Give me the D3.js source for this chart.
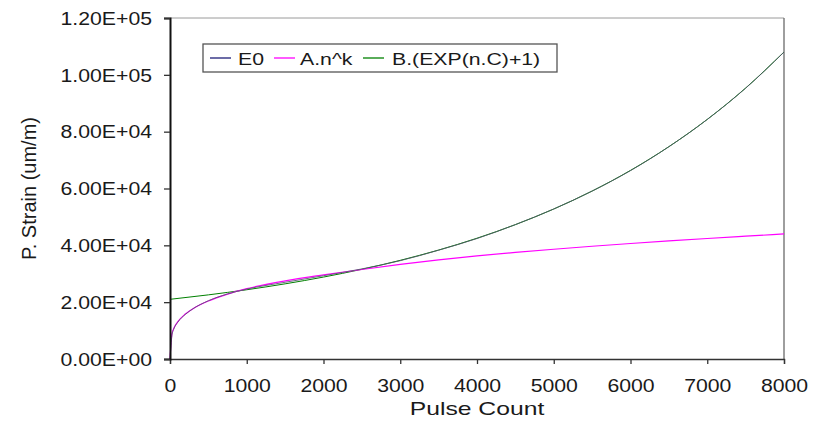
<!DOCTYPE html>
<html>
<head>
<meta charset="utf-8">
<script src="https://cdn.jsdelivr.net/npm/d3@7"></script>
<style>
  html, body { margin: 0; padding: 0; background: #fff; }
  svg { display: block; }
  text { font-family: "Liberation Sans", Arial, sans-serif; fill: #1a1a1a; }
</style>
</head>
<body>
<svg id="chart" width="813" height="421"></svg>
<script>
// ---- data ----
const pulses   = [0, 25, 50, 100, 200, 300, 500, 750, 1000, 1500, 2000, 2500, 3000, 3500, 4000, 4500, 5000, 5500, 6000, 6500, 7000, 7500, 8000];
const e0Values = [0, 8200, 10600, 12900, 15700, 17700, 20500, 22900, 24600, 27000, 29300, 31700, 34600, 38300, 42400, 47300, 52800, 59100, 66300, 74700, 84300, 95300, 108000];
const aValues  = [0, 8900, 10790, 13070, 15840, 17720, 20410, 22840, 24740, 27500, 29600, 31500, 33300, 34900, 36310, 37520, 38630, 39670, 40640, 41550, 42410, 43220, 44000];
const bPulses  = [0, 500, 1000, 1500, 2000, 2500, 3000, 3500, 4000, 4500, 5000, 5500, 6000, 6500, 7000, 7500, 8000];
const bValues  = [21000, 22570, 24370, 26450, 28830, 31570, 34720, 38340, 42500, 47280, 52780, 59100, 66370, 74720, 84320, 95350, 108040];
const xTicks = [0, 1000, 2000, 3000, 4000, 5000, 6000, 7000, 8000];
const yTicks = [0, 20000, 40000, 60000, 80000, 100000, 120000];
const seriesNames = ["E0", "A.n^k", "B.(EXP(n.C)+1)"];
const seriesColors = ["#1c1c78", "#ff00ff", "#008000"];
const xTitle = "Pulse Count";
const yTitle = "P. Strain (um/m)";

// ---- layout ----
const svg = d3.select("#chart");
const L = 170, R = 784, T = 18, B = 359;
const x = d3.scaleLinear().domain([0, 8000]).range([L, R]);
const y = d3.scaleLinear().domain([0, 120000]).range([B, T]);

function sci(v) {
  const [m, e] = v.toExponential(2).split("e");
  const sign = e[0] === "-" ? "-" : "+";
  const ex = e.replace(/^[+-]/, "").padStart(2, "0");
  return m + "E" + sign + ex;
}
function stretch(sel, f) {
  sel.each(function () {
    const w = this.getComputedTextLength();
    d3.select(this).attr("textLength", w * f).attr("lengthAdjust", "spacingAndGlyphs");
  });
}

// frame (top and right)
svg.append("line").attr("x1", L).attr("x2", R).attr("y1", T).attr("y2", T)
  .attr("stroke", "#9a9a9a").attr("stroke-width", 1);
svg.append("line").attr("x1", R).attr("x2", R).attr("y1", T).attr("y2", B)
  .attr("stroke", "#6a6a6a").attr("stroke-width", 1.3);

// series
const bData = bPulses.map((p, i) => [p, bValues[i]]);
const aData = pulses.map((p, i) => [p, aValues[i]]);
const eData = pulses.map((p, i) => [p, e0Values[i]]);
const cg = d3.line().curve(d3.curveMonotoneX).x(d => x(d[0])).y(d => y(d[1]));
svg.append("path").datum(bData).attr("d", cg).attr("fill", "none")
  .attr("stroke", seriesColors[2]).attr("stroke-width", 1);
svg.append("path").datum(aData).attr("d", cg).attr("fill", "none")
  .attr("stroke", seriesColors[1]).attr("stroke-width", 1.2);
svg.append("path").datum(eData).attr("d", cg).attr("fill", "none")
  .attr("stroke", "#55556e").attr("stroke-width", 1).attr("stroke-opacity", 0.85);

// axes
const xAxis = svg.append("g").attr("transform", `translate(0,${B})`)
  .call(d3.axisBottom(x).tickValues(xTicks).tickFormat(d3.format("d")).tickSize(5).tickPadding(15));
const yAxis = svg.append("g").attr("transform", `translate(${L},0)`)
  .call(d3.axisLeft(y).tickValues(yTicks).tickFormat(sci).tickSize(6).tickPadding(12));
xAxis.select(".domain").attr("stroke", "#333").attr("stroke-width", 1.3);
yAxis.select(".domain").attr("stroke", "#111").attr("stroke-width", 2);
[xAxis, yAxis].forEach(a => {
  a.selectAll(".tick line").attr("stroke", "#333").attr("stroke-width", 1.3);
  a.selectAll("text").attr("font-size", 18).attr("fill", "#1a1a1a")
    .attr("font-family", "'Liberation Sans', Arial, sans-serif");
});
yAxis.selectAll("text").attr("dy", "0.35em");
stretch(xAxis.selectAll("text"), 1.18);
stretch(yAxis.selectAll("text"), 1.18);

// titles
const xt = svg.append("text").attr("x", (L + R) / 2).attr("y", 415)
  .attr("text-anchor", "middle").attr("font-size", 19).text(xTitle);
stretch(xt, 1.3);
svg.append("text").attr("transform", `translate(36,${(T + B) / 2}) rotate(-90)`)
  .attr("text-anchor", "middle").attr("font-size", 20).text(yTitle);

// legend
const lg = svg.append("g");
lg.append("rect").attr("x", 203).attr("y", 44).attr("width", 354).attr("height", 28)
  .attr("fill", "#fff").attr("stroke", "#555").attr("stroke-width", 1.3);
const legendLineX = [210, 274, 363];
const legendTextX = [238, 300, 392];
seriesNames.forEach((n, i) => {
  lg.append("line").attr("x1", legendLineX[i]).attr("x2", legendLineX[i] + 21)
    .attr("y1", 58).attr("y2", 58).attr("stroke", seriesColors[i]).attr("stroke-width", 1.3);
  const t = lg.append("text").attr("x", legendTextX[i]).attr("y", 64.5)
    .attr("font-size", 17).text(n);
  stretch(t, 1.25);
});
</script>
</body>
</html>
